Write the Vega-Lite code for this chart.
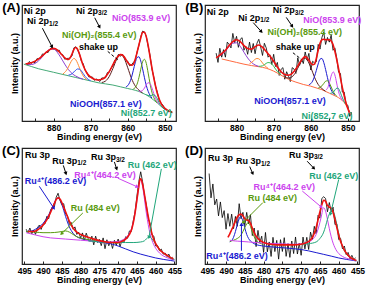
{
"$schema":"https://vega.github.io/schema/vega-lite/v6.json",
"padding":{"left":1,"top":1,"right":0,"bottom":0},
"config":{
"view":{"stroke":"#222","strokeWidth":1.2},
"font":"Liberation Sans",
"axis":{"grid":false,"domain":false,"labelFont":"Liberation Sans","labelFontWeight":"bold","labelFontSize":8.5,"labelColor":"#000","titleFont":"Liberation Sans","titleFontWeight":"bold","titleFontSize":9,"titleColor":"#000","labelOverlap":false,"labelFlush":false},
"axisX":{"tickSize":-3,"tickColor":"#222","labelPadding":5,"titlePadding":1},
"axisY":{"labels":false,"ticks":false,"titlePadding":3},
"text":{"font":"Liberation Sans","fontWeight":"bold","fontSize":9}
},
"datasets":{
"A":[
{"k":"tag","x":891.4,"y":97,"t":"(A)"},
{"k":"head","x":888,"y":95,"t":"Ni 2p"},
{"k":"orb","x":881.2,"y":86,"t":"Ni 2p","sub":"1/2"},
{"k":"orb","x":868,"y":95,"t":"Ni 2p","sub":"3/2"},
{"k":"lbl","s":"NiO","x":856.4,"y":89,"t":"NiO(853.9 eV)"},
{"k":"lbl","s":"NiOH2","x":867.7,"y":74,"t":"Ni(OH)₂(855.4 eV)"},
{"k":"lbl","s":"k","x":867.9,"y":64,"t":"shake up"},
{"k":"lbl","s":"NiOOH","x":865.9,"y":15,"t":"NiOOH(857.1 eV)"},
{"k":"lbl","s":"Ni","x":855,"y":7,"t":"Ni(852.7 eV)"},
{"k":"arrow","s":"k","x":883,"y":80,"x2":880.4,"y2":64},
{"k":"arrow","s":"k","x":868.9,"y":89,"x2":867.6,"y2":81},
{"k":"dash","x":865.4,"y":60,"x2":862.4,"y2":52},
{"k":"raw","x":887.5,"y":50},{"k":"raw","x":887,"y":48.3},{"k":"raw","x":886.5,"y":51.3},{"k":"raw","x":886,"y":49.7},{"k":"raw","x":885.5,"y":51.1},{"k":"raw","x":885,"y":50.2},{"k":"raw","x":884.5,"y":53.6},{"k":"raw","x":884,"y":53.8},{"k":"raw","x":883.5,"y":53.9},{"k":"raw","x":883,"y":57.8},{"k":"raw","x":882.5,"y":57.4},{"k":"raw","x":882,"y":59.8},{"k":"raw","x":881.5,"y":58.9},{"k":"raw","x":881,"y":61.9},{"k":"raw","x":880.5,"y":63.5},{"k":"raw","x":880,"y":61.8},{"k":"raw","x":879.5,"y":62.4},{"k":"raw","x":879,"y":60.2},{"k":"raw","x":878.5,"y":61.2},{"k":"raw","x":878,"y":57.4},{"k":"raw","x":877.5,"y":57.1},{"k":"raw","x":877,"y":53.3},{"k":"raw","x":876.5,"y":53.9},{"k":"raw","x":876,"y":54},{"k":"raw","x":875.5,"y":54.4},{"k":"raw","x":875,"y":56.4},{"k":"raw","x":874.5,"y":63.1},{"k":"raw","x":874,"y":64},{"k":"raw","x":873.5,"y":61.1},{"k":"raw","x":873,"y":57.7},{"k":"raw","x":872.5,"y":51.5},{"k":"raw","x":872,"y":49.3},{"k":"raw","x":871.5,"y":43.6},{"k":"raw","x":871,"y":42},{"k":"raw","x":870.5,"y":38},{"k":"raw","x":870,"y":38.1},{"k":"raw","x":869.5,"y":37.8},{"k":"raw","x":869,"y":35.1},{"k":"raw","x":868.5,"y":36.2},{"k":"raw","x":868,"y":35.3},{"k":"raw","x":867.5,"y":34.1},{"k":"raw","x":867,"y":37.1},{"k":"raw","x":866.5,"y":37.1},{"k":"raw","x":866,"y":37.2},{"k":"raw","x":865.5,"y":41.7},{"k":"raw","x":865,"y":42},{"k":"raw","x":864.5,"y":45.7},{"k":"raw","x":864,"y":47.4},{"k":"raw","x":863.5,"y":52.4},{"k":"raw","x":863,"y":53.9},{"k":"raw","x":862.5,"y":57.5},{"k":"raw","x":862,"y":55.7},{"k":"raw","x":861.5,"y":57.7},{"k":"raw","x":861,"y":55.6},{"k":"raw","x":860.5,"y":52.4},{"k":"raw","x":860,"y":51.5},{"k":"raw","x":859.5,"y":47.6},{"k":"raw","x":859,"y":48.5},{"k":"raw","x":858.5,"y":50.4},{"k":"raw","x":858,"y":52.1},{"k":"raw","x":857.5,"y":59.3},{"k":"raw","x":857,"y":65.1},{"k":"raw","x":856.5,"y":72.6},{"k":"raw","x":856,"y":77.5},{"k":"raw","x":855.5,"y":76.8},{"k":"raw","x":855,"y":72.7},{"k":"raw","x":854.5,"y":64.3},{"k":"raw","x":854,"y":56.7},{"k":"raw","x":853.5,"y":45},{"k":"raw","x":853,"y":38.1},{"k":"raw","x":852.5,"y":29.8},{"k":"raw","x":852,"y":24.4},{"k":"raw","x":851.5,"y":17.4},{"k":"raw","x":851,"y":15.4},{"k":"raw","x":850.5,"y":13.6},{"k":"raw","x":850,"y":10.5},{"k":"raw","x":849.5,"y":10},{"k":"raw","x":849,"y":7.9},{"k":"raw","x":848.5,"y":8.6},{"k":"raw","x":848,"y":7.2},
{"k":"fit","x":887.5,"y":49.2},{"k":"fit","x":887,"y":49.5},{"k":"fit","x":886,"y":50.2},{"k":"fit","x":885,"y":51.6},{"k":"fit","x":884,"y":53.6},{"k":"fit","x":883,"y":56.2},{"k":"fit","x":882,"y":59.1},{"k":"fit","x":881,"y":61.5},{"k":"fit","x":880.5,"y":62.3},{"k":"fit","x":880,"y":62.6},{"k":"fit","x":879.5,"y":62.3},{"k":"fit","x":879,"y":61.3},{"k":"fit","x":878,"y":58},{"k":"fit","x":877,"y":54.6},{"k":"fit","x":876.5,"y":53.4},{"k":"fit","x":876,"y":53},{"k":"fit","x":875.5,"y":54.6},{"k":"fit","x":875,"y":58},{"k":"fit","x":874.5,"y":61.8},{"k":"fit","x":874,"y":63.4},{"k":"fit","x":873.5,"y":61.8},{"k":"fit","x":873,"y":57.5},{"k":"fit","x":872.5,"y":52.5},{"k":"fit","x":872,"y":47.8},{"k":"fit","x":871,"y":41.2},{"k":"fit","x":870,"y":37.8},{"k":"fit","x":869,"y":36},{"k":"fit","x":868,"y":35.4},{"k":"fit","x":867,"y":35.9},{"k":"fit","x":866,"y":38},{"k":"fit","x":865,"y":42.5},{"k":"fit","x":864,"y":48.5},{"k":"fit","x":863,"y":54.2},{"k":"fit","x":862,"y":57.2},{"k":"fit","x":861.5,"y":57},{"k":"fit","x":861,"y":55.5},{"k":"fit","x":860,"y":50.5},{"k":"fit","x":859.5,"y":48.8},{"k":"fit","x":859,"y":48},{"k":"fit","x":858.5,"y":49},{"k":"fit","x":858,"y":53},{"k":"fit","x":857.5,"y":59},{"k":"fit","x":857,"y":65.5},{"k":"fit","x":856.5,"y":71.5},{"k":"fit","x":856,"y":76.5},{"k":"fit","x":855.5,"y":76.5},{"k":"fit","x":855,"y":72.5},{"k":"fit","x":854.5,"y":65},{"k":"fit","x":854,"y":55.5},{"k":"fit","x":853.5,"y":46},{"k":"fit","x":853,"y":37.5},{"k":"fit","x":852.5,"y":30},{"k":"fit","x":852,"y":23.5},{"k":"fit","x":851,"y":15},{"k":"fit","x":850,"y":11},{"k":"fit","x":849,"y":8.7},{"k":"fit","x":848,"y":7.5},
{"k":"comp","s":"bg","x":888,"y":49},{"k":"comp","s":"bg","x":886,"y":47},{"k":"comp","s":"bg","x":884,"y":45},{"k":"comp","s":"bg","x":882,"y":43.5},{"k":"comp","s":"bg","x":880,"y":42},{"k":"comp","s":"bg","x":878,"y":40.5},{"k":"comp","s":"bg","x":876,"y":39},{"k":"comp","s":"bg","x":874,"y":37.5},{"k":"comp","s":"bg","x":872,"y":36},{"k":"comp","s":"bg","x":870,"y":34.5},{"k":"comp","s":"bg","x":868,"y":33},{"k":"comp","s":"bg","x":866,"y":32},{"k":"comp","s":"bg","x":864,"y":31},{"k":"comp","s":"bg","x":862,"y":29.5},{"k":"comp","s":"bg","x":860,"y":28},{"k":"comp","s":"bg","x":858,"y":26.5},{"k":"comp","s":"bg","x":857,"y":25.5},{"k":"comp","s":"bg","x":856,"y":24},{"k":"comp","s":"bg","x":855,"y":22.5},{"k":"comp","s":"bg","x":854,"y":20.5},{"k":"comp","s":"bg","x":853,"y":18},{"k":"comp","s":"bg","x":852,"y":15.5},{"k":"comp","s":"bg","x":851,"y":12.5},{"k":"comp","s":"bg","x":850,"y":10},{"k":"comp","s":"bg","x":849,"y":8.5},{"k":"comp","s":"bg","x":848,"y":7.5},
{"k":"comp","s":"p12","x":887,"y":48.6},{"k":"comp","s":"p12","x":886,"y":48.7},{"k":"comp","s":"p12","x":885,"y":49.6},{"k":"comp","s":"p12","x":884,"y":51.9},{"k":"comp","s":"p12","x":883,"y":55.4},{"k":"comp","s":"p12","x":882,"y":59.2},{"k":"comp","s":"p12","x":881,"y":61.8},{"k":"comp","s":"p12","x":880,"y":62},{"k":"comp","s":"p12","x":879,"y":59.2},{"k":"comp","s":"p12","x":878,"y":54.5},{"k":"comp","s":"p12","x":877,"y":49.1},{"k":"comp","s":"p12","x":876,"y":44.4},{"k":"comp","s":"p12","x":875,"y":40.9},{"k":"comp","s":"p12","x":874,"y":38.7},{"k":"comp","s":"p12","x":873,"y":37.1},{"k":"comp","s":"p12","x":872,"y":36},
{"k":"comp","s":"satO","x":877.5,"y":40.4},{"k":"comp","s":"satO","x":877,"y":41.9},{"k":"comp","s":"satO","x":876.5,"y":43.7},{"k":"comp","s":"satO","x":876,"y":46.5},{"k":"comp","s":"satO","x":875.5,"y":49.8},{"k":"comp","s":"satO","x":875,"y":52.6},{"k":"comp","s":"satO","x":874.5,"y":53.9},{"k":"comp","s":"satO","x":874,"y":52.8},{"k":"comp","s":"satO","x":873.5,"y":49.7},{"k":"comp","s":"satO","x":873,"y":45.7},{"k":"comp","s":"satO","x":872.5,"y":41.9},{"k":"comp","s":"satO","x":872,"y":38.9},{"k":"comp","s":"satO","x":871.5,"y":36.9},{"k":"comp","s":"satO","x":871,"y":35.7},
{"k":"comp","s":"satB","x":876,"y":39.5},{"k":"comp","s":"satB","x":875,"y":40.8},{"k":"comp","s":"satB","x":874.5,"y":42.3},{"k":"comp","s":"satB","x":874,"y":43.9},{"k":"comp","s":"satB","x":873.5,"y":44.9},{"k":"comp","s":"satB","x":873,"y":44.6},{"k":"comp","s":"satB","x":872.5,"y":43.2},{"k":"comp","s":"satB","x":872,"y":40.9},{"k":"comp","s":"satB","x":871.5,"y":38.5},{"k":"comp","s":"satB","x":871,"y":36.7},{"k":"comp","s":"satB","x":870,"y":34.7},
{"k":"comp","s":"shake","x":867,"y":33.2},{"k":"comp","s":"shake","x":866,"y":34.4},{"k":"comp","s":"shake","x":865,"y":38.3},{"k":"comp","s":"shake","x":864,"y":45.3},{"k":"comp","s":"shake","x":863,"y":53.1},{"k":"comp","s":"shake","x":862,"y":57.3},{"k":"comp","s":"shake","x":861,"y":54.3},{"k":"comp","s":"shake","x":860,"y":45.9},{"k":"comp","s":"shake","x":859,"y":36.7},{"k":"comp","s":"shake","x":858,"y":30.3},{"k":"comp","s":"shake","x":857,"y":26.6},{"k":"comp","s":"shake","x":856,"y":24.2},
{"k":"comp","s":"NiOOH","x":860.5,"y":29.4},{"k":"comp","s":"NiOOH","x":860,"y":30.5},{"k":"comp","s":"NiOOH","x":859.5,"y":33.1},{"k":"comp","s":"NiOOH","x":859,"y":37.5},{"k":"comp","s":"NiOOH","x":858.5,"y":43.7},{"k":"comp","s":"NiOOH","x":858,"y":50.1},{"k":"comp","s":"NiOOH","x":857.5,"y":54.6},{"k":"comp","s":"NiOOH","x":857,"y":55.4},{"k":"comp","s":"NiOOH","x":856.5,"y":51.8},{"k":"comp","s":"NiOOH","x":856,"y":45},{"k":"comp","s":"NiOOH","x":855.5,"y":37.3},{"k":"comp","s":"NiOOH","x":855,"y":30.6},{"k":"comp","s":"NiOOH","x":854.5,"y":25.6},{"k":"comp","s":"NiOOH","x":854,"y":22.2},{"k":"comp","s":"NiOOH","x":853.5,"y":19.8},
{"k":"comp","s":"NiOH2","x":858.5,"y":27.6},{"k":"comp","s":"NiOH2","x":858,"y":28.8},{"k":"comp","s":"NiOH2","x":857.5,"y":31.7},{"k":"comp","s":"NiOH2","x":857,"y":37.3},{"k":"comp","s":"NiOH2","x":856.5,"y":44.6},{"k":"comp","s":"NiOH2","x":856,"y":51.1},{"k":"comp","s":"NiOH2","x":855.5,"y":53.2},{"k":"comp","s":"NiOH2","x":855,"y":49.6},{"k":"comp","s":"NiOH2","x":854.5,"y":41.3},{"k":"comp","s":"NiOH2","x":854,"y":32.3},{"k":"comp","s":"NiOH2","x":853.5,"y":24.9},{"k":"comp","s":"NiOH2","x":853,"y":20.3},{"k":"comp","s":"NiOH2","x":852.5,"y":17.4},{"k":"comp","s":"NiOH2","x":852,"y":15.5},
{"k":"comp","s":"NiO","x":857,"y":25.7},{"k":"comp","s":"NiO","x":856.5,"y":25.7},{"k":"comp","s":"NiO","x":856,"y":26.4},{"k":"comp","s":"NiO","x":855.5,"y":28.4},{"k":"comp","s":"NiO","x":855,"y":31.2},{"k":"comp","s":"NiO","x":854.5,"y":33},{"k":"comp","s":"NiO","x":854,"y":32.3},{"k":"comp","s":"NiO","x":853.5,"y":28.6},{"k":"comp","s":"NiO","x":853,"y":23.8},{"k":"comp","s":"NiO","x":852.5,"y":19.5},{"k":"comp","s":"NiO","x":852,"y":16.6},{"k":"comp","s":"NiO","x":851.5,"y":14.3},
{"k":"comp","s":"Ni","x":855,"y":22.6},{"k":"comp","s":"Ni","x":854,"y":21.8},{"k":"comp","s":"Ni","x":853.5,"y":22.2},{"k":"comp","s":"Ni","x":853,"y":22.7},{"k":"comp","s":"Ni","x":852.5,"y":21.5},{"k":"comp","s":"Ni","x":852,"y":18.9},{"k":"comp","s":"Ni","x":851.5,"y":15.6},{"k":"comp","s":"Ni","x":851,"y":13},{"k":"comp","s":"Ni","x":850,"y":10}
],
"B":[
{"k":"tag","x":891.4,"y":97,"t":"(B)"},
{"k":"head","x":888,"y":94,"t":"Ni 2p"},
{"k":"orb","x":873.6,"y":89,"t":"Ni 2p","sub":"1/2"},
{"k":"orb","x":864.3,"y":95.5,"t":"Ni 2p","sub":"3/2"},
{"k":"lbl","s":"NiO","x":854.2,"y":86.8,"t":"NiO(853.9 eV)"},
{"k":"lbl","s":"NiOH2","x":861.6,"y":77,"t":"Ni(OH)₂(855.4 eV)"},
{"k":"lbl","s":"k","x":864.2,"y":63.4,"t":"shake up"},
{"k":"lbl","s":"NiOOH","x":865.6,"y":17,"t":"NiOOH(857.1 eV)"},
{"k":"lbl","s":"Ni","x":855.6,"y":4.5,"t":"Ni(852.7 eV)"},
{"k":"arrow","s":"k","x":875.5,"y":84.8,"x2":873.3,"y2":77},
{"k":"arrow","s":"k","x":866.6,"y":89.3,"x2":865,"y2":81.7},
{"k":"dash","x":864.8,"y":58.8,"x2":862.6,"y2":53.4},
{"k":"raw","x":885.5,"y":58.5},{"k":"raw","x":885,"y":50.5},{"k":"raw","x":884.5,"y":62.7},{"k":"raw","x":884,"y":55},{"k":"raw","x":883.5,"y":61.5},{"k":"raw","x":883,"y":55},{"k":"raw","x":882.5,"y":68},{"k":"raw","x":882,"y":66},{"k":"raw","x":881.5,"y":63},{"k":"raw","x":881,"y":75.5},{"k":"raw","x":880.5,"y":67.5},{"k":"raw","x":880,"y":73},{"k":"raw","x":879.5,"y":63.5},{"k":"raw","x":879,"y":70.5},{"k":"raw","x":878.5,"y":71.8},{"k":"raw","x":878,"y":61},{"k":"raw","x":877.5,"y":64.5},{"k":"raw","x":877,"y":57.5},{"k":"raw","x":876.5,"y":68},{"k":"raw","x":876,"y":59},{"k":"raw","x":875.5,"y":66.8},{"k":"raw","x":875,"y":58},{"k":"raw","x":874.5,"y":67},{"k":"raw","x":874,"y":70.5},{"k":"raw","x":873.5,"y":63.8},{"k":"raw","x":873,"y":56.5},{"k":"raw","x":872.5,"y":67},{"k":"raw","x":872,"y":63},{"k":"raw","x":871.5,"y":55},{"k":"raw","x":871,"y":57},{"k":"raw","x":870.5,"y":48.8},{"k":"raw","x":870,"y":57.5},{"k":"raw","x":869.5,"y":47},{"k":"raw","x":869,"y":50.5},{"k":"raw","x":868.5,"y":39.3},{"k":"raw","x":868,"y":44.5},{"k":"raw","x":867.5,"y":46},{"k":"raw","x":867,"y":36},{"k":"raw","x":866.5,"y":42.5},{"k":"raw","x":866,"y":38.5},{"k":"raw","x":865.5,"y":34},{"k":"raw","x":865,"y":46},{"k":"raw","x":864.5,"y":44.8},{"k":"raw","x":864,"y":41},{"k":"raw","x":863.5,"y":54.5},{"k":"raw","x":863,"y":48},{"k":"raw","x":862.5,"y":53.5},{"k":"raw","x":862,"y":49.5},{"k":"raw","x":861.5,"y":59.5},{"k":"raw","x":861,"y":52.5},{"k":"raw","x":860.5,"y":58.3},{"k":"raw","x":860,"y":44},{"k":"raw","x":859.5,"y":51.5},{"k":"raw","x":859,"y":50},{"k":"raw","x":858.5,"y":51},{"k":"raw","x":858,"y":66},{"k":"raw","x":857.5,"y":62},{"k":"raw","x":857,"y":72},{"k":"raw","x":856.5,"y":76.5},{"k":"raw","x":856,"y":66},{"k":"raw","x":855.5,"y":72},{"k":"raw","x":855,"y":68},{"k":"raw","x":854.5,"y":74},{"k":"raw","x":854,"y":61},{"k":"raw","x":853.5,"y":63},{"k":"raw","x":853,"y":54},{"k":"raw","x":852.5,"y":42},{"k":"raw","x":852,"y":41},{"k":"raw","x":851.5,"y":25},{"k":"raw","x":851,"y":25},{"k":"raw","x":850.5,"y":14.5},{"k":"raw","x":850,"y":13.5},{"k":"raw","x":849.5,"y":4},{"k":"raw","x":849,"y":7.5},
{"k":"fit","x":885.5,"y":54.5},{"k":"fit","x":885,"y":55.5},{"k":"fit","x":884,"y":58},{"k":"fit","x":883,"y":61},{"k":"fit","x":882,"y":65},{"k":"fit","x":881,"y":68.5},{"k":"fit","x":880,"y":70},{"k":"fit","x":879,"y":68.5},{"k":"fit","x":878,"y":65},{"k":"fit","x":877,"y":62.5},{"k":"fit","x":876,"y":62},{"k":"fit","x":875,"y":64},{"k":"fit","x":874,"y":65.5},{"k":"fit","x":873,"y":63.5},{"k":"fit","x":872,"y":60},{"k":"fit","x":871,"y":56},{"k":"fit","x":870,"y":51.5},{"k":"fit","x":869,"y":46.5},{"k":"fit","x":868,"y":42.5},{"k":"fit","x":867,"y":40},{"k":"fit","x":866,"y":39.5},{"k":"fit","x":865,"y":41},{"k":"fit","x":864,"y":45},{"k":"fit","x":863,"y":50},{"k":"fit","x":862,"y":54.5},{"k":"fit","x":861.5,"y":55.5},{"k":"fit","x":861,"y":54.5},{"k":"fit","x":860,"y":50},{"k":"fit","x":859.5,"y":48.5},{"k":"fit","x":859,"y":49},{"k":"fit","x":858.5,"y":54},{"k":"fit","x":858,"y":61},{"k":"fit","x":857.5,"y":67},{"k":"fit","x":857,"y":70},{"k":"fit","x":856.5,"y":70.5},{"k":"fit","x":856,"y":70},{"k":"fit","x":855,"y":70},{"k":"fit","x":854.5,"y":69},{"k":"fit","x":854,"y":66},{"k":"fit","x":853.5,"y":60},{"k":"fit","x":853,"y":53},{"k":"fit","x":852.5,"y":45},{"k":"fit","x":852,"y":37},{"k":"fit","x":851.5,"y":29},{"k":"fit","x":851,"y":22},{"k":"fit","x":850.5,"y":15.5},{"k":"fit","x":850,"y":10.5},{"k":"fit","x":849.5,"y":7},{"k":"fit","x":849,"y":5.5},
{"k":"comp","s":"bg2","x":884,"y":53.5},{"k":"comp","s":"bg2","x":882,"y":52},{"k":"comp","s":"bg2","x":880,"y":50.5},{"k":"comp","s":"bg2","x":878,"y":49},{"k":"comp","s":"bg2","x":876,"y":47.8},{"k":"comp","s":"bg2","x":874,"y":46.8},{"k":"comp","s":"bg2","x":872,"y":45.5},{"k":"comp","s":"bg2","x":870,"y":43},{"k":"comp","s":"bg2","x":868,"y":39.5},{"k":"comp","s":"bg2","x":866,"y":36},{"k":"comp","s":"bg2","x":864,"y":33.5},{"k":"comp","s":"bg2","x":862,"y":31.5},{"k":"comp","s":"bg2","x":860,"y":30},{"k":"comp","s":"bg2","x":858,"y":28},{"k":"comp","s":"bg2","x":857,"y":27},{"k":"comp","s":"bg2","x":856,"y":25.5},{"k":"comp","s":"bg2","x":855,"y":24},{"k":"comp","s":"bg2","x":854,"y":22.5},{"k":"comp","s":"bg2","x":853,"y":21},{"k":"comp","s":"bg2","x":852,"y":19},{"k":"comp","s":"bg2","x":851,"y":16},{"k":"comp","s":"bg2","x":850,"y":11},{"k":"comp","s":"bg2","x":849.5,"y":8},{"k":"comp","s":"bg2","x":849,"y":6},
{"k":"comp","s":"p12","x":884.5,"y":56.4},{"k":"comp","s":"p12","x":884,"y":57.3},{"k":"comp","s":"p12","x":883,"y":60.3},{"k":"comp","s":"p12","x":882,"y":64.2},{"k":"comp","s":"p12","x":881,"y":67.1},{"k":"comp","s":"p12","x":880,"y":67.4},{"k":"comp","s":"p12","x":879,"y":64.4},{"k":"comp","s":"p12","x":878,"y":59.3},{"k":"comp","s":"p12","x":877,"y":54.3},{"k":"comp","s":"p12","x":876,"y":50.6},{"k":"comp","s":"p12","x":875,"y":48.3},{"k":"comp","s":"p12","x":874,"y":47.1},
{"k":"comp","s":"satO","x":876.5,"y":49.4},{"k":"comp","s":"satO","x":876,"y":50.4},{"k":"comp","s":"satO","x":875.5,"y":51.7},{"k":"comp","s":"satO","x":875,"y":53.2},{"k":"comp","s":"satO","x":874.5,"y":53.9},{"k":"comp","s":"satO","x":874,"y":53.6},{"k":"comp","s":"satO","x":873.5,"y":52.1},{"k":"comp","s":"satO","x":873,"y":50},{"k":"comp","s":"satO","x":872.5,"y":48.1},{"k":"comp","s":"satO","x":872,"y":46.6},{"k":"comp","s":"satO","x":871.5,"y":45.4},
{"k":"comp","s":"satG","x":874,"y":47.1},{"k":"comp","s":"satG","x":873,"y":47.6},{"k":"comp","s":"satG","x":872.5,"y":48.5},{"k":"comp","s":"satG","x":872,"y":49.7},{"k":"comp","s":"satG","x":871.5,"y":50.4},{"k":"comp","s":"satG","x":871,"y":50.2},{"k":"comp","s":"satG","x":870.5,"y":49.1},{"k":"comp","s":"satG","x":870,"y":47.2},{"k":"comp","s":"satG","x":869.5,"y":44.8},{"k":"comp","s":"satG","x":869,"y":42.7},{"k":"comp","s":"satG","x":868,"y":39.8},
{"k":"comp","s":"shake","x":867,"y":37.9},{"k":"comp","s":"shake","x":866,"y":37},{"k":"comp","s":"shake","x":865,"y":38.2},{"k":"comp","s":"shake","x":864,"y":42.3},{"k":"comp","s":"shake","x":863,"y":48.8},{"k":"comp","s":"shake","x":862,"y":53.6},{"k":"comp","s":"shake","x":861.5,"y":54.1},{"k":"comp","s":"shake","x":861,"y":52.8},{"k":"comp","s":"shake","x":860,"y":46.3},{"k":"comp","s":"shake","x":859,"y":37.8},{"k":"comp","s":"shake","x":858,"y":31.5},{"k":"comp","s":"shake","x":857,"y":28},{"k":"comp","s":"shake","x":856,"y":25.6},
{"k":"comp","s":"NiOOH","x":860.5,"y":31.3},{"k":"comp","s":"NiOOH","x":860,"y":32.2},{"k":"comp","s":"NiOOH","x":859.5,"y":34.4},{"k":"comp","s":"NiOOH","x":859,"y":38.3},{"k":"comp","s":"NiOOH","x":858.5,"y":43.6},{"k":"comp","s":"NiOOH","x":858,"y":49.2},{"k":"comp","s":"NiOOH","x":857.5,"y":53.3},{"k":"comp","s":"NiOOH","x":857,"y":53.9},{"k":"comp","s":"NiOOH","x":856.5,"y":50.5},{"k":"comp","s":"NiOOH","x":856,"y":44.4},{"k":"comp","s":"NiOOH","x":855.5,"y":37.4},{"k":"comp","s":"NiOOH","x":855,"y":31.3},{"k":"comp","s":"NiOOH","x":854.5,"y":26.8},{"k":"comp","s":"NiOOH","x":854,"y":24.1},{"k":"comp","s":"NiOOH","x":853.5,"y":22.3},
{"k":"comp","s":"NiOH2","x":858,"y":28.4},{"k":"comp","s":"NiOH2","x":857.5,"y":28.9},{"k":"comp","s":"NiOH2","x":857,"y":30.3},{"k":"comp","s":"NiOH2","x":856.5,"y":32.3},{"k":"comp","s":"NiOH2","x":856,"y":34.3},{"k":"comp","s":"NiOH2","x":855.5,"y":34.7},{"k":"comp","s":"NiOH2","x":855,"y":32.8},{"k":"comp","s":"NiOH2","x":854.5,"y":29.3},{"k":"comp","s":"NiOH2","x":854,"y":25.8},{"k":"comp","s":"NiOH2","x":853.5,"y":23.1},{"k":"comp","s":"NiOH2","x":853,"y":21.4},
{"k":"comp","s":"NiO","x":855.9,"y":26.7},{"k":"comp","s":"NiO","x":855.4,"y":28.8},{"k":"comp","s":"NiO","x":854.9,"y":33.8},{"k":"comp","s":"NiO","x":854.4,"y":39.9},{"k":"comp","s":"NiO","x":853.9,"y":42.3},{"k":"comp","s":"NiO","x":853.4,"y":38.4},{"k":"comp","s":"NiO","x":852.9,"y":30.8},{"k":"comp","s":"NiO","x":852.4,"y":24},{"k":"comp","s":"NiO","x":851.9,"y":20},{"k":"comp","s":"NiO","x":851.4,"y":17.5},
{"k":"comp","s":"Ni","x":854.7,"y":23.9},{"k":"comp","s":"Ni","x":854.2,"y":24.2},{"k":"comp","s":"Ni","x":853.7,"y":25.7},{"k":"comp","s":"Ni","x":853.2,"y":27.9},{"k":"comp","s":"Ni","x":852.7,"y":28.4},{"k":"comp","s":"Ni","x":852.2,"y":26},{"k":"comp","s":"Ni","x":851.7,"y":21.8},{"k":"comp","s":"Ni","x":851.2,"y":18},{"k":"comp","s":"Ni","x":850.7,"y":14.9}
],
"C":[
{"k":"tag","x":498.5,"y":97,"t":"(C)"},
{"k":"head","x":494.8,"y":94.3,"t":"Ru 3p"},
{"k":"orb","x":480.9,"y":89,"t":"Ru 3p","sub":"1/2"},
{"k":"orb","x":470.6,"y":92,"t":"Ru 3p","sub":"3/2"},
{"k":"lbl","s":"Ru4a","x":473.5,"y":77,"t":"Ru⁴⁺(464.2 eV)"},
{"k":"lbl","s":"Ru462","x":460.9,"y":85.7,"t":"Ru (462 eV)"},
{"k":"lbl","s":"Ru4b","x":486.7,"y":71.4,"t":"Ru⁴⁺(486.2 eV)"},
{"k":"lbl","s":"Ru484","x":476.1,"y":48.6,"t":"Ru (484 eV)"},
{"k":"arrow","s":"k","x":484.6,"y":85,"x2":483.9,"y2":78},
{"k":"arrow","s":"k","x":471,"y":88,"x2":470.4,"y2":82},
{"k":"arrow","s":"Ru4a","x":470.1,"y":74,"x2":464.9,"y2":66.5},
{"k":"arrow","s":"Ru462","x":458.5,"y":82,"x2":461.8,"y2":23},
{"k":"arrow","s":"Ru4b","x":491,"y":67,"x2":487.1,"y2":48},
{"k":"arrow","s":"Ru484","x":479.4,"y":44,"x2":485.1,"y2":26},
{"k":"raw","x":494.5,"y":30},{"k":"raw","x":494,"y":27},{"k":"raw","x":493.5,"y":31},{"k":"raw","x":493,"y":26},{"k":"raw","x":492.5,"y":29.2},{"k":"raw","x":492,"y":25.5},{"k":"raw","x":491.5,"y":31.3},{"k":"raw","x":491,"y":33.5},{"k":"raw","x":490.5,"y":29.8},{"k":"raw","x":490,"y":34.5},{"k":"raw","x":489.5,"y":34.5},{"k":"raw","x":489,"y":41},{"k":"raw","x":488.5,"y":39},{"k":"raw","x":488,"y":46.5},{"k":"raw","x":487.5,"y":49.2},{"k":"raw","x":487,"y":49},{"k":"raw","x":486.5,"y":57.5},{"k":"raw","x":486,"y":61},{"k":"raw","x":485.5,"y":55},{"k":"raw","x":485,"y":51},{"k":"raw","x":484.5,"y":52},{"k":"raw","x":484,"y":43},{"k":"raw","x":483.5,"y":42},{"k":"raw","x":483,"y":34},{"k":"raw","x":482.5,"y":35.8},{"k":"raw","x":482,"y":30},{"k":"raw","x":481.5,"y":32},{"k":"raw","x":481,"y":25.5},{"k":"raw","x":480.5,"y":27.4},{"k":"raw","x":480,"y":22.5},{"k":"raw","x":479.5,"y":26.8},{"k":"raw","x":479,"y":20.2},{"k":"raw","x":478.5,"y":26.6},{"k":"raw","x":478,"y":22},{"k":"raw","x":477.5,"y":19.5},{"k":"raw","x":477,"y":24},{"k":"raw","x":476.5,"y":16.5},{"k":"raw","x":476,"y":24},{"k":"raw","x":475.5,"y":18.6},{"k":"raw","x":475,"y":21.2},{"k":"raw","x":474.5,"y":15.8},{"k":"raw","x":474,"y":22.5},{"k":"raw","x":473.5,"y":13.2},{"k":"raw","x":473,"y":20.9},{"k":"raw","x":472.5,"y":15.7},{"k":"raw","x":472,"y":19.5},{"k":"raw","x":471.5,"y":13.4},{"k":"raw","x":471,"y":20.4},{"k":"raw","x":470.5,"y":16.4},{"k":"raw","x":470,"y":21.5},{"k":"raw","x":469.5,"y":14.9},{"k":"raw","x":469,"y":20.5},{"k":"raw","x":468.5,"y":18.4},{"k":"raw","x":468,"y":23.5},{"k":"raw","x":467.5,"y":22.2},{"k":"raw","x":467,"y":28.5},{"k":"raw","x":466.5,"y":28},{"k":"raw","x":466,"y":37},{"k":"raw","x":465.5,"y":45},{"k":"raw","x":465,"y":58.5},{"k":"raw","x":464.5,"y":71},{"k":"raw","x":464,"y":79.5},{"k":"raw","x":463.5,"y":71},{"k":"raw","x":463,"y":59},{"k":"raw","x":462.5,"y":51},{"k":"raw","x":462,"y":39},{"k":"raw","x":461.5,"y":35},{"k":"raw","x":461,"y":25},{"k":"raw","x":460.5,"y":24},{"k":"raw","x":460,"y":15.5},{"k":"raw","x":459.5,"y":15.8},{"k":"raw","x":459,"y":11.5},{"k":"raw","x":458.5,"y":12.8},{"k":"raw","x":458,"y":8.5},{"k":"raw","x":457.5,"y":9.5},{"k":"raw","x":457,"y":6.5},{"k":"raw","x":456.5,"y":8.5},{"k":"raw","x":456,"y":4.5},{"k":"raw","x":455.5,"y":5.8},
{"k":"fit","x":494,"y":28},{"k":"fit","x":493,"y":28},{"k":"fit","x":492,"y":28.5},{"k":"fit","x":491,"y":30.5},{"k":"fit","x":490,"y":33.5},{"k":"fit","x":489,"y":38},{"k":"fit","x":488,"y":44.5},{"k":"fit","x":487,"y":52},{"k":"fit","x":486.5,"y":55.5},{"k":"fit","x":486,"y":57},{"k":"fit","x":485.5,"y":56},{"k":"fit","x":485,"y":53},{"k":"fit","x":484,"y":45},{"k":"fit","x":483,"y":37},{"k":"fit","x":482,"y":31},{"k":"fit","x":481,"y":27.5},{"k":"fit","x":480,"y":25.5},{"k":"fit","x":478,"y":23},{"k":"fit","x":476,"y":21},{"k":"fit","x":474,"y":19.5},{"k":"fit","x":472,"y":18.5},{"k":"fit","x":470,"y":18.5},{"k":"fit","x":469,"y":19.5},{"k":"fit","x":468,"y":21.5},{"k":"fit","x":467,"y":25.5},{"k":"fit","x":466.5,"y":29},{"k":"fit","x":466,"y":35},{"k":"fit","x":465.5,"y":44},{"k":"fit","x":465,"y":55.5},{"k":"fit","x":464.5,"y":67},{"k":"fit","x":464.2,"y":73},{"k":"fit","x":464,"y":73.5},{"k":"fit","x":463.5,"y":69},{"k":"fit","x":463,"y":60},{"k":"fit","x":462.5,"y":50},{"k":"fit","x":462,"y":41},{"k":"fit","x":461.5,"y":33},{"k":"fit","x":461,"y":26},{"k":"fit","x":460.5,"y":21},{"k":"fit","x":460,"y":17.5},{"k":"fit","x":459,"y":12.5},{"k":"fit","x":458,"y":9.5},{"k":"fit","x":457,"y":7.5},{"k":"fit","x":456,"y":5.5},{"k":"fit","x":455.3,"y":4.5},
{"k":"comp","s":"Ru4b","x":494.5,"y":28},{"k":"comp","s":"Ru4b","x":493,"y":28.5},{"k":"comp","s":"Ru4b","x":492,"y":30},{"k":"comp","s":"Ru4b","x":491,"y":32},{"k":"comp","s":"Ru4b","x":490,"y":35},{"k":"comp","s":"Ru4b","x":489,"y":39.5},{"k":"comp","s":"Ru4b","x":488,"y":45.5},{"k":"comp","s":"Ru4b","x":487,"y":52.5},{"k":"comp","s":"Ru4b","x":486.5,"y":56},{"k":"comp","s":"Ru4b","x":486,"y":57},{"k":"comp","s":"Ru4b","x":485.5,"y":55.5},{"k":"comp","s":"Ru4b","x":485,"y":51.5},{"k":"comp","s":"Ru4b","x":484,"y":41},{"k":"comp","s":"Ru4b","x":483,"y":32},{"k":"comp","s":"Ru4b","x":482,"y":26.5},{"k":"comp","s":"Ru4b","x":481,"y":23.5},{"k":"comp","s":"Ru4b","x":480,"y":22},{"k":"comp","s":"Ru4b","x":478,"y":20.5},{"k":"comp","s":"Ru4b","x":476,"y":19.5},{"k":"comp","s":"Ru4b","x":474,"y":18.5},{"k":"comp","s":"Ru4b","x":472,"y":17.5},{"k":"comp","s":"Ru4b","x":470,"y":15.5},{"k":"comp","s":"Ru4b","x":468,"y":13},{"k":"comp","s":"Ru4b","x":466,"y":10.5},{"k":"comp","s":"Ru4b","x":464,"y":8.5},{"k":"comp","s":"Ru4b","x":462,"y":6.8},{"k":"comp","s":"Ru4b","x":460,"y":5.2},{"k":"comp","s":"Ru4b","x":458,"y":4},{"k":"comp","s":"Ru4b","x":456,"y":3},{"k":"comp","s":"Ru4b","x":455,"y":2.5},
{"k":"comp","s":"Ru484","x":494.5,"y":28},{"k":"comp","s":"Ru484","x":492,"y":27.5},{"k":"comp","s":"Ru484","x":490,"y":27},{"k":"comp","s":"Ru484","x":488,"y":27},{"k":"comp","s":"Ru484","x":486,"y":27.5},{"k":"comp","s":"Ru484","x":485,"y":28},{"k":"comp","s":"Ru484","x":484,"y":28.5},{"k":"comp","s":"Ru484","x":483,"y":27.5},{"k":"comp","s":"Ru484","x":482,"y":25.5},{"k":"comp","s":"Ru484","x":481,"y":23.5},{"k":"comp","s":"Ru484","x":480,"y":22.5},{"k":"comp","s":"Ru484","x":478,"y":21},{"k":"comp","s":"Ru484","x":476,"y":20},{"k":"comp","s":"Ru484","x":474,"y":19},{"k":"comp","s":"Ru484","x":472,"y":18.5},{"k":"comp","s":"Ru484","x":470,"y":18},
{"k":"comp","s":"Ru4a","x":494.5,"y":27},{"k":"comp","s":"Ru4a","x":492,"y":25},{"k":"comp","s":"Ru4a","x":490,"y":23.5},{"k":"comp","s":"Ru4a","x":488,"y":22.5},{"k":"comp","s":"Ru4a","x":486,"y":22},{"k":"comp","s":"Ru4a","x":484,"y":21.5},{"k":"comp","s":"Ru4a","x":482,"y":21},{"k":"comp","s":"Ru4a","x":480,"y":20.5},{"k":"comp","s":"Ru4a","x":476,"y":19.5},{"k":"comp","s":"Ru4a","x":472,"y":19},{"k":"comp","s":"Ru4a","x":470,"y":19.5},{"k":"comp","s":"Ru4a","x":469,"y":20.5},{"k":"comp","s":"Ru4a","x":468,"y":22.5},{"k":"comp","s":"Ru4a","x":467,"y":26.5},{"k":"comp","s":"Ru4a","x":466.5,"y":30},{"k":"comp","s":"Ru4a","x":466,"y":35.5},{"k":"comp","s":"Ru4a","x":465.5,"y":44},{"k":"comp","s":"Ru4a","x":465,"y":55},{"k":"comp","s":"Ru4a","x":464.5,"y":67},{"k":"comp","s":"Ru4a","x":464.2,"y":72.8},{"k":"comp","s":"Ru4a","x":464,"y":72.5},{"k":"comp","s":"Ru4a","x":463.5,"y":67},{"k":"comp","s":"Ru4a","x":463,"y":56},{"k":"comp","s":"Ru4a","x":462.5,"y":44},{"k":"comp","s":"Ru4a","x":462,"y":34},{"k":"comp","s":"Ru4a","x":461.5,"y":26},{"k":"comp","s":"Ru4a","x":461,"y":20.5},{"k":"comp","s":"Ru4a","x":460.5,"y":16.5},{"k":"comp","s":"Ru4a","x":460,"y":13.5},{"k":"comp","s":"Ru4a","x":459,"y":9.5},{"k":"comp","s":"Ru4a","x":458,"y":7},{"k":"comp","s":"Ru4a","x":457,"y":5.5},{"k":"comp","s":"Ru4a","x":456,"y":4.2},{"k":"comp","s":"Ru4a","x":455,"y":3.5},
{"k":"comp","s":"Ru462","x":478,"y":20},{"k":"comp","s":"Ru462","x":475,"y":19},{"k":"comp","s":"Ru462","x":472,"y":18.5},{"k":"comp","s":"Ru462","x":470,"y":18.5},{"k":"comp","s":"Ru462","x":468,"y":18.5},{"k":"comp","s":"Ru462","x":466,"y":18.5},{"k":"comp","s":"Ru462","x":464,"y":19},{"k":"comp","s":"Ru462","x":463,"y":20},{"k":"comp","s":"Ru462","x":462.5,"y":21.5},{"k":"comp","s":"Ru462","x":462,"y":23},{"k":"comp","s":"Ru462","x":461.5,"y":23},{"k":"comp","s":"Ru462","x":461,"y":21.5},{"k":"comp","s":"Ru462","x":460,"y":17.5},{"k":"comp","s":"Ru462","x":459,"y":13},{"k":"comp","s":"Ru462","x":458,"y":9.5},{"k":"comp","s":"Ru462","x":457,"y":7},{"k":"comp","s":"Ru462","x":456,"y":5},{"k":"comp","s":"Ru462","x":455,"y":4}
],
"D":[
{"k":"tag","x":498.5,"y":97,"t":"(D)"},
{"k":"head","x":494.8,"y":91,"t":"Ru 3p"},
{"k":"orb","x":480.7,"y":88.6,"t":"Ru 3p","sub":"1/2"},
{"k":"orb","x":466.6,"y":94.3,"t":"Ru 3p","sub":"3/2"},
{"k":"lbl","s":"Ru462","x":461.3,"y":75.7,"t":"Ru (462 eV)"},
{"k":"lbl","s":"Ru4a","x":474.5,"y":66.3,"t":"Ru⁴⁺(464.2 eV)"},
{"k":"lbl","s":"Ru484","x":477.6,"y":57,"t":"Ru (484 eV)"},
{"k":"lbl","s":"Ru4b","x":487.1,"y":7.1,"t":"Ru⁴⁺(486.2 eV)"},
{"k":"arrow","s":"k","x":483.7,"y":84,"x2":482.9,"y2":78},
{"k":"arrow","s":"k","x":468.4,"y":88.6,"x2":466.6,"y2":82.5},
{"k":"arrow","s":"Ru462","x":460,"y":72.9,"x2":462.2,"y2":43},
{"k":"arrow","s":"Ru4a","x":469.7,"y":62.9,"x2":464.6,"y2":49},
{"k":"arrow","s":"Ru484","x":480.2,"y":52.9,"x2":485.5,"y2":35.7},
{"k":"arrow","s":"Ru4b","x":485.9,"y":11.4,"x2":485.9,"y2":34.3},
{"k":"raw","x":494.5,"y":78},{"k":"raw","x":494,"y":57},{"k":"raw","x":493.5,"y":69},{"k":"raw","x":493,"y":51},{"k":"raw","x":492.5,"y":56},{"k":"raw","x":492,"y":41.5},{"k":"raw","x":491.5,"y":53.5},{"k":"raw","x":491,"y":40},{"k":"raw","x":490.5,"y":46},{"k":"raw","x":490,"y":30},{"k":"raw","x":489.5,"y":43.5},{"k":"raw","x":489,"y":32.5},{"k":"raw","x":488.5,"y":43},{"k":"raw","x":488,"y":30.5},{"k":"raw","x":487.5,"y":41},{"k":"raw","x":487,"y":32.5},{"k":"raw","x":486.5,"y":52},{"k":"raw","x":486,"y":39},{"k":"raw","x":485.5,"y":44.5},{"k":"raw","x":485,"y":33},{"k":"raw","x":484.5,"y":44.5},{"k":"raw","x":484,"y":34.5},{"k":"raw","x":483.5,"y":42.5},{"k":"raw","x":483,"y":24.5},{"k":"raw","x":482.5,"y":31},{"k":"raw","x":482,"y":15},{"k":"raw","x":481.5,"y":29},{"k":"raw","x":481,"y":18.5},{"k":"raw","x":480.5,"y":24},{"k":"raw","x":480,"y":10},{"k":"raw","x":479.5,"y":27.2},{"k":"raw","x":479,"y":10.5},{"k":"raw","x":478.5,"y":19},{"k":"raw","x":478,"y":6.5},{"k":"raw","x":477.5,"y":23},{"k":"raw","x":477,"y":10.7},{"k":"raw","x":476.5,"y":20.4},{"k":"raw","x":476,"y":4.2},{"k":"raw","x":475.5,"y":21},{"k":"raw","x":475,"y":10.8},{"k":"raw","x":474.5,"y":22.7},{"k":"raw","x":474,"y":6.6},{"k":"raw","x":473.5,"y":17.6},{"k":"raw","x":473,"y":5.7},{"k":"raw","x":472.5,"y":19.8},{"k":"raw","x":472,"y":9},{"k":"raw","x":471.5,"y":23.3},{"k":"raw","x":471,"y":8.6},{"k":"raw","x":470.5,"y":18},{"k":"raw","x":470,"y":7.5},{"k":"raw","x":469.5,"y":23.2},{"k":"raw","x":469,"y":13},{"k":"raw","x":468.5,"y":23},{"k":"raw","x":468,"y":12.5},{"k":"raw","x":467.5,"y":27.5},{"k":"raw","x":467,"y":21},{"k":"raw","x":466.5,"y":32.5},{"k":"raw","x":466,"y":26},{"k":"raw","x":465.5,"y":42},{"k":"raw","x":465,"y":39.5},{"k":"raw","x":464.5,"y":56.5},{"k":"raw","x":464,"y":58},{"k":"raw","x":463.5,"y":56.5},{"k":"raw","x":463,"y":45},{"k":"raw","x":462.5,"y":53},{"k":"raw","x":462,"y":45},{"k":"raw","x":461.5,"y":49},{"k":"raw","x":461,"y":34},{"k":"raw","x":460.5,"y":34.5},{"k":"raw","x":460,"y":21},{"k":"raw","x":459.5,"y":22},{"k":"raw","x":459,"y":13},{"k":"raw","x":458.5,"y":15.5},{"k":"raw","x":458,"y":8},{"k":"raw","x":457.5,"y":10},{"k":"raw","x":457,"y":4.5},{"k":"raw","x":456.5,"y":7.5},{"k":"raw","x":456,"y":3.8},{"k":"raw","x":455.5,"y":5.3},
{"k":"fit","x":489.5,"y":23},{"k":"fit","x":489,"y":26},{"k":"fit","x":488.5,"y":29.5},{"k":"fit","x":488,"y":33},{"k":"fit","x":487.5,"y":37},{"k":"fit","x":487,"y":40.5},{"k":"fit","x":486.5,"y":42.5},{"k":"fit","x":486,"y":43},{"k":"fit","x":485.5,"y":41.5},{"k":"fit","x":485,"y":39},{"k":"fit","x":484.5,"y":38},{"k":"fit","x":484,"y":37.5},{"k":"fit","x":483.5,"y":35},{"k":"fit","x":483,"y":31},{"k":"fit","x":482.5,"y":27},{"k":"fit","x":482,"y":24},{"k":"fit","x":481,"y":20.5},{"k":"fit","x":480,"y":18.5},{"k":"fit","x":479,"y":17.5},{"k":"fit","x":478,"y":17},{"k":"fit","x":476,"y":16.5},{"k":"fit","x":474,"y":16.5},{"k":"fit","x":472,"y":16.5},{"k":"fit","x":470,"y":17},{"k":"fit","x":469,"y":17.8},{"k":"fit","x":468,"y":19.5},{"k":"fit","x":467,"y":23},{"k":"fit","x":466.5,"y":26.5},{"k":"fit","x":466,"y":31.5},{"k":"fit","x":465.5,"y":38},{"k":"fit","x":465,"y":45},{"k":"fit","x":464.5,"y":51},{"k":"fit","x":464,"y":55},{"k":"fit","x":463.5,"y":54},{"k":"fit","x":463,"y":50.5},{"k":"fit","x":462.5,"y":49},{"k":"fit","x":462,"y":48},{"k":"fit","x":461.5,"y":44.5},{"k":"fit","x":461,"y":38.5},{"k":"fit","x":460.5,"y":31.5},{"k":"fit","x":460,"y":25},{"k":"fit","x":459.5,"y":19.5},{"k":"fit","x":459,"y":15.5},{"k":"fit","x":458.5,"y":12},{"k":"fit","x":458,"y":9.5},{"k":"fit","x":457,"y":6},{"k":"fit","x":456,"y":4},{"k":"fit","x":455.3,"y":3},
{"k":"comp","s":"Ru4b","x":489,"y":19},{"k":"comp","s":"Ru4b","x":488,"y":23},{"k":"comp","s":"Ru4b","x":487.5,"y":28},{"k":"comp","s":"Ru4b","x":487,"y":34},{"k":"comp","s":"Ru4b","x":486.5,"y":39},{"k":"comp","s":"Ru4b","x":486.2,"y":41},{"k":"comp","s":"Ru4b","x":486,"y":40.5},{"k":"comp","s":"Ru4b","x":485.5,"y":37},{"k":"comp","s":"Ru4b","x":485,"y":31},{"k":"comp","s":"Ru4b","x":484.5,"y":25.5},{"k":"comp","s":"Ru4b","x":484,"y":22},{"k":"comp","s":"Ru4b","x":483,"y":18.5},{"k":"comp","s":"Ru4b","x":482,"y":16.8},{"k":"comp","s":"Ru4b","x":480,"y":15.5},{"k":"comp","s":"Ru4b","x":478,"y":14.8},{"k":"comp","s":"Ru4b","x":476,"y":14.2},{"k":"comp","s":"Ru4b","x":474,"y":13.8},{"k":"comp","s":"Ru4b","x":472,"y":13.2},{"k":"comp","s":"Ru4b","x":470,"y":12.5},{"k":"comp","s":"Ru4b","x":468,"y":11.3},{"k":"comp","s":"Ru4b","x":466,"y":9.8},{"k":"comp","s":"Ru4b","x":464,"y":8.3},{"k":"comp","s":"Ru4b","x":462,"y":6.8},{"k":"comp","s":"Ru4b","x":460,"y":5.2},{"k":"comp","s":"Ru4b","x":458,"y":4},{"k":"comp","s":"Ru4b","x":456,"y":3},{"k":"comp","s":"Ru4b","x":455.3,"y":2.6},
{"k":"comp","s":"Ru484","x":489,"y":19.5},{"k":"comp","s":"Ru484","x":488,"y":20.5},{"k":"comp","s":"Ru484","x":487,"y":22},{"k":"comp","s":"Ru484","x":486,"y":25},{"k":"comp","s":"Ru484","x":485.5,"y":28},{"k":"comp","s":"Ru484","x":485,"y":31.5},{"k":"comp","s":"Ru484","x":484.5,"y":34.5},{"k":"comp","s":"Ru484","x":484.2,"y":35.5},{"k":"comp","s":"Ru484","x":484,"y":35.3},{"k":"comp","s":"Ru484","x":483.5,"y":32.5},{"k":"comp","s":"Ru484","x":483,"y":27.5},{"k":"comp","s":"Ru484","x":482.5,"y":23.5},{"k":"comp","s":"Ru484","x":482,"y":20.5},{"k":"comp","s":"Ru484","x":481,"y":18},{"k":"comp","s":"Ru484","x":480,"y":17},
{"k":"comp","s":"Ru4a","x":489,"y":20.5},{"k":"comp","s":"Ru4a","x":488,"y":20},{"k":"comp","s":"Ru4a","x":486,"y":19.5},{"k":"comp","s":"Ru4a","x":484,"y":19},{"k":"comp","s":"Ru4a","x":482,"y":18.5},{"k":"comp","s":"Ru4a","x":480,"y":18},{"k":"comp","s":"Ru4a","x":476,"y":17.5},{"k":"comp","s":"Ru4a","x":472,"y":17},{"k":"comp","s":"Ru4a","x":470,"y":17.5},{"k":"comp","s":"Ru4a","x":468,"y":19},{"k":"comp","s":"Ru4a","x":467,"y":21},{"k":"comp","s":"Ru4a","x":466,"y":25.5},{"k":"comp","s":"Ru4a","x":465.5,"y":30},{"k":"comp","s":"Ru4a","x":465,"y":36},{"k":"comp","s":"Ru4a","x":464.5,"y":43},{"k":"comp","s":"Ru4a","x":464.2,"y":48},{"k":"comp","s":"Ru4a","x":464,"y":48.5},{"k":"comp","s":"Ru4a","x":463.5,"y":45.5},{"k":"comp","s":"Ru4a","x":463,"y":38.5},{"k":"comp","s":"Ru4a","x":462.5,"y":30.5},{"k":"comp","s":"Ru4a","x":462,"y":23.5},{"k":"comp","s":"Ru4a","x":461.5,"y":18},{"k":"comp","s":"Ru4a","x":461,"y":14},{"k":"comp","s":"Ru4a","x":460,"y":9},{"k":"comp","s":"Ru4a","x":459,"y":6.5},{"k":"comp","s":"Ru4a","x":458,"y":5},{"k":"comp","s":"Ru4a","x":457,"y":4},{"k":"comp","s":"Ru4a","x":456,"y":3.5},{"k":"comp","s":"Ru4a","x":455.3,"y":3},
{"k":"comp","s":"Ru462","x":470,"y":17},{"k":"comp","s":"Ru462","x":468,"y":17.5},{"k":"comp","s":"Ru462","x":466,"y":19},{"k":"comp","s":"Ru462","x":465,"y":22},{"k":"comp","s":"Ru462","x":464,"y":27.5},{"k":"comp","s":"Ru462","x":463.5,"y":32.5},{"k":"comp","s":"Ru462","x":463,"y":38.5},{"k":"comp","s":"Ru462","x":462.5,"y":43},{"k":"comp","s":"Ru462","x":462,"y":45.5},{"k":"comp","s":"Ru462","x":461.8,"y":46},{"k":"comp","s":"Ru462","x":461.5,"y":45.5},{"k":"comp","s":"Ru462","x":461,"y":41},{"k":"comp","s":"Ru462","x":460.5,"y":34},{"k":"comp","s":"Ru462","x":460,"y":26.5},{"k":"comp","s":"Ru462","x":459.5,"y":20},{"k":"comp","s":"Ru462","x":459,"y":15},{"k":"comp","s":"Ru462","x":458.5,"y":11.5},{"k":"comp","s":"Ru462","x":458,"y":8.8},{"k":"comp","s":"Ru462","x":457,"y":5.5},{"k":"comp","s":"Ru462","x":456,"y":3.8},{"k":"comp","s":"Ru462","x":455.3,"y":3}
]
},
"columns":2,
"spacing":{"row":27,"column":29},
"bounds":"flush",
"resolve":{"scale":{"x":"independent","y":"independent"}},
"concat":[
{"width":154,"height":116,"data":{"name":"A"},
"encoding":{"x":{"field":"x","type":"quantitative","scale":{"domain":[847,888.5],"reverse":true,"nice":false,"zero":false},"axis":{"title":"Binding energy (eV)","values":[850,855,860,865,870,875,880,885],"labelExpr":"datum.value % 10 === 0 ? datum.label : ''"}},
"y":{"field":"y","type":"quantitative","scale":{"domain":[0,100],"nice":false,"zero":false},"axis":{"title":"Intensity (a.u.)"}}},
"layer":[
{"transform":[{"filter":"datum.k==='raw'"}],"mark":{"type":"line","color":"#000","strokeWidth":0.8}},
{"transform":[{"filter":"datum.k==='comp'"}],"mark":{"type":"line","strokeWidth":1,"interpolate":"monotone"},"encoding":{"color":{"field":"s","type":"nominal","legend":null,"scale":{"domain":["k","bg","bg2","p12","satO","satB","satG","shake","NiOOH","NiOH2","NiO","Ni","Ru4b","Ru484","Ru4a","Ru462"],"range":["#000000","#44aa77","#ff6a40","#9040d0","#ff8833","#3355ee","#33bb55","#5a1a1a","#1a1ad0","#5a9a10","#cc44ee","#1fa67a","#1a1ad0","#5a9a10","#cc44ee","#1fa67a"]}}}},
{"transform":[{"filter":"datum.k==='fit'"}],"mark":{"type":"line","color":"#ee1111","strokeWidth":1.6,"interpolate":"monotone"}},
{"transform":[{"filter":"datum.k==='arrow'"}],"mark":{"type":"rule","strokeWidth":1},"encoding":{"x2":{"field":"x2"},"y2":{"field":"y2"},"color":{"field":"s","type":"nominal","legend":null}}},
{"transform":[{"filter":"datum.k==='arrow'"},{"calculate":"atan2((datum.x-datum.x2)*3.711,(datum.y2-datum.y)*1.16)*180/PI","as":"a"}],"mark":{"type":"point","shape":"triangle-up","filled":true,"size":16,"opacity":1},"encoding":{"x":{"field":"x2","type":"quantitative"},"y":{"field":"y2","type":"quantitative"},"angle":{"field":"a","type":"quantitative","scale":null},"color":{"field":"s","type":"nominal","legend":null}}},
{"transform":[{"filter":"datum.k==='dash'"}],"mark":{"type":"rule","strokeWidth":1,"color":"#000","strokeDash":[3,2]},"encoding":{"x2":{"field":"x2"},"y2":{"field":"y2"}}},
{"transform":[{"filter":"datum.k==='tag'"}],"mark":{"type":"text","fontSize":13,"align":"center","baseline":"middle","color":"#000"},"encoding":{"text":{"field":"t"}}},
{"transform":[{"filter":"datum.k==='head'"}],"mark":{"type":"text","align":"left","baseline":"middle","color":"#000"},"encoding":{"text":{"field":"t"}}},
{"transform":[{"filter":"datum.k==='orb'"}],"mark":{"type":"text","align":"right","baseline":"middle","color":"#000"},"encoding":{"text":{"field":"t"}}},
{"transform":[{"filter":"datum.k==='orb'"}],"mark":{"type":"text","align":"left","baseline":"middle","fontSize":6.5,"dy":2.5,"color":"#000"},"encoding":{"text":{"field":"sub"}}},
{"transform":[{"filter":"datum.k==='lbl'"}],"mark":{"type":"text","align":"center","baseline":"middle"},"encoding":{"text":{"field":"t"},"color":{"field":"s","type":"nominal","legend":null}}}
]},
{"width":154,"height":116,"data":{"name":"B"},
"encoding":{"x":{"field":"x","type":"quantitative","scale":{"domain":[847,888.5],"reverse":true,"nice":false,"zero":false},"axis":{"title":"Binding energy (eV)","values":[850,855,860,865,870,875,880,885],"labelExpr":"datum.value % 10 === 0 ? datum.label : ''"}},
"y":{"field":"y","type":"quantitative","scale":{"domain":[0,100],"nice":false,"zero":false},"axis":{"title":"Intensity (a.u.)"}}},
"layer":[
{"transform":[{"filter":"datum.k==='raw'"}],"mark":{"type":"line","color":"#000","strokeWidth":0.8}},
{"transform":[{"filter":"datum.k==='comp'"}],"mark":{"type":"line","strokeWidth":1,"interpolate":"monotone"},"encoding":{"color":{"field":"s","type":"nominal","legend":null}}},
{"transform":[{"filter":"datum.k==='fit'"}],"mark":{"type":"line","color":"#ee1111","strokeWidth":1.6,"interpolate":"monotone"}},
{"transform":[{"filter":"datum.k==='arrow'"}],"mark":{"type":"rule","strokeWidth":1},"encoding":{"x2":{"field":"x2"},"y2":{"field":"y2"},"color":{"field":"s","type":"nominal","legend":null}}},
{"transform":[{"filter":"datum.k==='arrow'"},{"calculate":"atan2((datum.x-datum.x2)*3.711,(datum.y2-datum.y)*1.16)*180/PI","as":"a"}],"mark":{"type":"point","shape":"triangle-up","filled":true,"size":16,"opacity":1},"encoding":{"x":{"field":"x2","type":"quantitative"},"y":{"field":"y2","type":"quantitative"},"angle":{"field":"a","type":"quantitative","scale":null},"color":{"field":"s","type":"nominal","legend":null}}},
{"transform":[{"filter":"datum.k==='dash'"}],"mark":{"type":"rule","strokeWidth":1,"color":"#000","strokeDash":[3,2]},"encoding":{"x2":{"field":"x2"},"y2":{"field":"y2"}}},
{"transform":[{"filter":"datum.k==='tag'"}],"mark":{"type":"text","fontSize":13,"align":"center","baseline":"middle","color":"#000"},"encoding":{"text":{"field":"t"}}},
{"transform":[{"filter":"datum.k==='head'"}],"mark":{"type":"text","align":"left","baseline":"middle","color":"#000"},"encoding":{"text":{"field":"t"}}},
{"transform":[{"filter":"datum.k==='orb'"}],"mark":{"type":"text","align":"right","baseline":"middle","color":"#000"},"encoding":{"text":{"field":"t"}}},
{"transform":[{"filter":"datum.k==='orb'"}],"mark":{"type":"text","align":"left","baseline":"middle","fontSize":6.5,"dy":2.5,"color":"#000"},"encoding":{"text":{"field":"sub"}}},
{"transform":[{"filter":"datum.k==='lbl'"}],"mark":{"type":"text","align":"center","baseline":"middle"},"encoding":{"text":{"field":"t"},"color":{"field":"s","type":"nominal","legend":null}}}
]},
{"width":154,"height":116,"data":{"name":"C"},
"encoding":{"x":{"field":"x","type":"quantitative","scale":{"domain":[454.6,495.6],"reverse":true,"nice":false,"zero":false},"axis":{"title":"Binding energy (eV)","values":[455,460,465,470,475,480,485,490,495]}},
"y":{"field":"y","type":"quantitative","scale":{"domain":[0,100],"nice":false,"zero":false},"axis":{"title":"Intensity (a.u.)"}}},
"layer":[
{"transform":[{"filter":"datum.k==='raw'"}],"mark":{"type":"line","color":"#000","strokeWidth":0.8}},
{"transform":[{"filter":"datum.k==='comp'"}],"mark":{"type":"line","strokeWidth":1,"interpolate":"monotone"},"encoding":{"color":{"field":"s","type":"nominal","legend":null}}},
{"transform":[{"filter":"datum.k==='fit'"}],"mark":{"type":"line","color":"#ee1111","strokeWidth":1.6,"interpolate":"monotone"}},
{"transform":[{"filter":"datum.k==='arrow'"}],"mark":{"type":"rule","strokeWidth":1},"encoding":{"x2":{"field":"x2"},"y2":{"field":"y2"},"color":{"field":"s","type":"nominal","legend":null}}},
{"transform":[{"filter":"datum.k==='arrow'"},{"calculate":"atan2((datum.x-datum.x2)*3.756,(datum.y2-datum.y)*1.16)*180/PI","as":"a"}],"mark":{"type":"point","shape":"triangle-up","filled":true,"size":16,"opacity":1},"encoding":{"x":{"field":"x2","type":"quantitative"},"y":{"field":"y2","type":"quantitative"},"angle":{"field":"a","type":"quantitative","scale":null},"color":{"field":"s","type":"nominal","legend":null}}},
{"transform":[{"filter":"datum.k==='tag'"}],"mark":{"type":"text","fontSize":13,"align":"center","baseline":"middle","color":"#000"},"encoding":{"text":{"field":"t"}}},
{"transform":[{"filter":"datum.k==='head'"}],"mark":{"type":"text","align":"left","baseline":"middle","color":"#000"},"encoding":{"text":{"field":"t"}}},
{"transform":[{"filter":"datum.k==='orb'"}],"mark":{"type":"text","align":"right","baseline":"middle","color":"#000"},"encoding":{"text":{"field":"t"}}},
{"transform":[{"filter":"datum.k==='orb'"}],"mark":{"type":"text","align":"left","baseline":"middle","fontSize":6.5,"dy":2.5,"color":"#000"},"encoding":{"text":{"field":"sub"}}},
{"transform":[{"filter":"datum.k==='lbl'"}],"mark":{"type":"text","align":"center","baseline":"middle"},"encoding":{"text":{"field":"t"},"color":{"field":"s","type":"nominal","legend":null}}}
]},
{"width":154,"height":116,"data":{"name":"D"},
"encoding":{"x":{"field":"x","type":"quantitative","scale":{"domain":[454.6,495.6],"reverse":true,"nice":false,"zero":false},"axis":{"title":"Binding energy (eV)","values":[455,460,465,470,475,480,485,490,495]}},
"y":{"field":"y","type":"quantitative","scale":{"domain":[0,100],"nice":false,"zero":false},"axis":{"title":"Intensity (a.u.)"}}},
"layer":[
{"transform":[{"filter":"datum.k==='raw'"}],"mark":{"type":"line","color":"#000","strokeWidth":0.8}},
{"transform":[{"filter":"datum.k==='comp'"}],"mark":{"type":"line","strokeWidth":1,"interpolate":"monotone"},"encoding":{"color":{"field":"s","type":"nominal","legend":null}}},
{"transform":[{"filter":"datum.k==='fit'"}],"mark":{"type":"line","color":"#ee1111","strokeWidth":1.6,"interpolate":"monotone"}},
{"transform":[{"filter":"datum.k==='arrow'"}],"mark":{"type":"rule","strokeWidth":1},"encoding":{"x2":{"field":"x2"},"y2":{"field":"y2"},"color":{"field":"s","type":"nominal","legend":null}}},
{"transform":[{"filter":"datum.k==='arrow'"},{"calculate":"atan2((datum.x-datum.x2)*3.756,(datum.y2-datum.y)*1.16)*180/PI","as":"a"}],"mark":{"type":"point","shape":"triangle-up","filled":true,"size":16,"opacity":1},"encoding":{"x":{"field":"x2","type":"quantitative"},"y":{"field":"y2","type":"quantitative"},"angle":{"field":"a","type":"quantitative","scale":null},"color":{"field":"s","type":"nominal","legend":null}}},
{"transform":[{"filter":"datum.k==='tag'"}],"mark":{"type":"text","fontSize":13,"align":"center","baseline":"middle","color":"#000"},"encoding":{"text":{"field":"t"}}},
{"transform":[{"filter":"datum.k==='head'"}],"mark":{"type":"text","align":"left","baseline":"middle","color":"#000"},"encoding":{"text":{"field":"t"}}},
{"transform":[{"filter":"datum.k==='orb'"}],"mark":{"type":"text","align":"right","baseline":"middle","color":"#000"},"encoding":{"text":{"field":"t"}}},
{"transform":[{"filter":"datum.k==='orb'"}],"mark":{"type":"text","align":"left","baseline":"middle","fontSize":6.5,"dy":2.5,"color":"#000"},"encoding":{"text":{"field":"sub"}}},
{"transform":[{"filter":"datum.k==='lbl'"}],"mark":{"type":"text","align":"center","baseline":"middle"},"encoding":{"text":{"field":"t"},"color":{"field":"s","type":"nominal","legend":null}}}
]}
]
}
